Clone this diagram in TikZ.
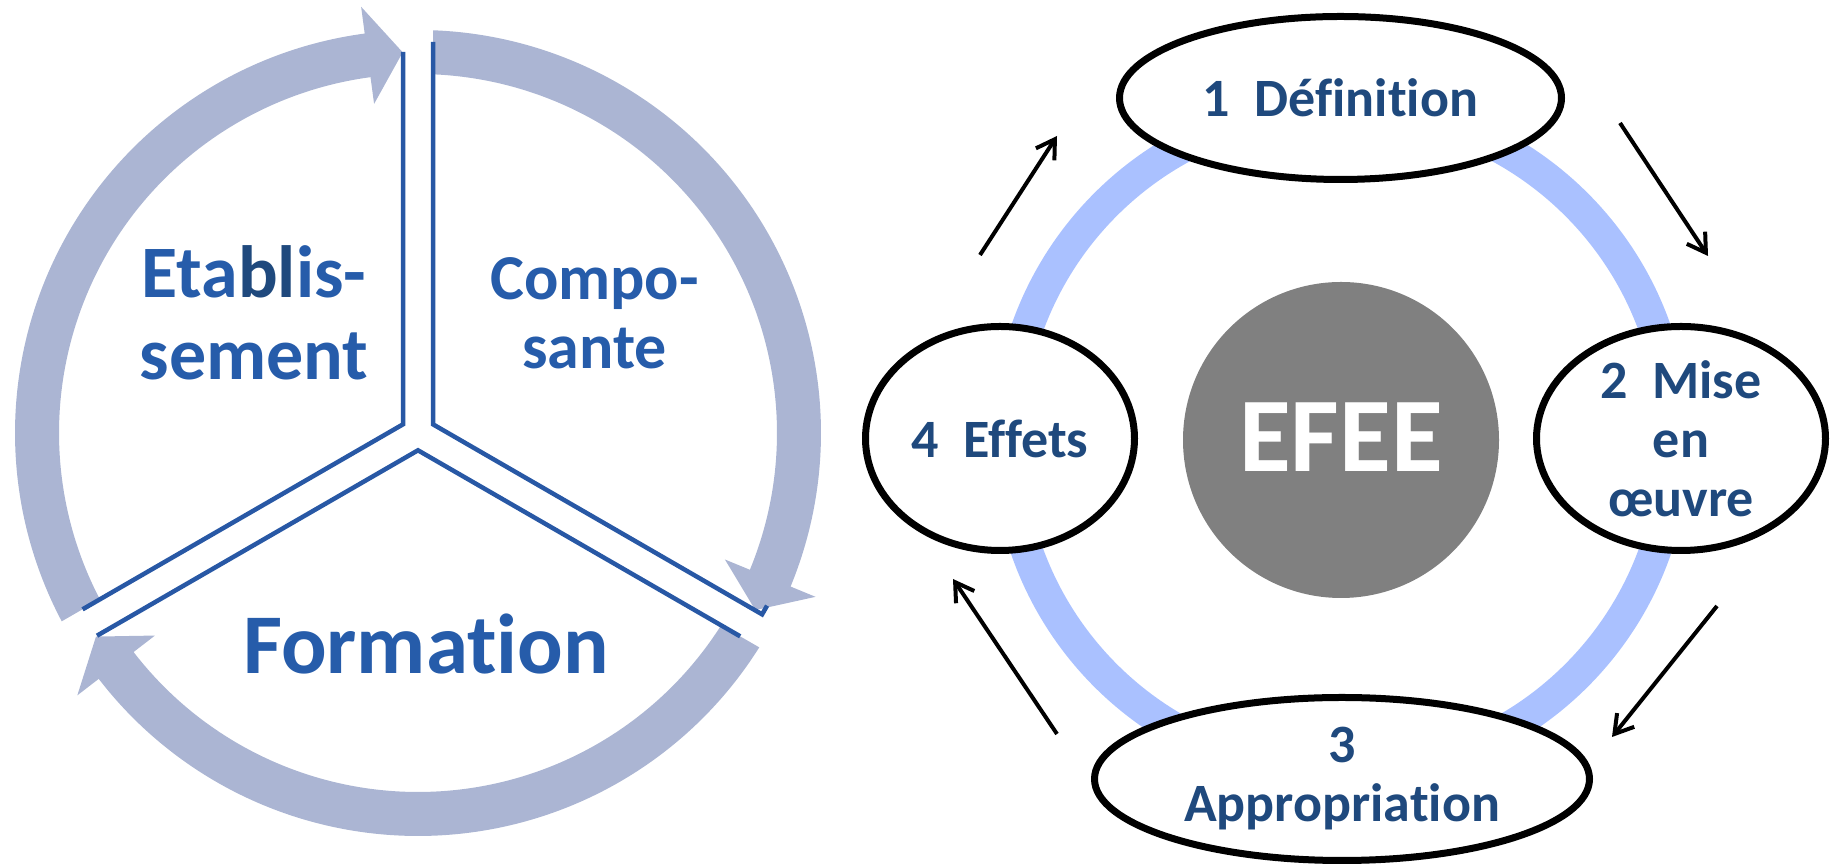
\documentclass[tikz,border=0pt]{standalone}
\usepackage{fontspec}
\setmainfont{Carlito}[Ligatures=NoCommon]
\usetikzlibrary{arrows.meta,shapes.geometric}

\definecolor{arrowfill}{RGB}{171,181,211}
\definecolor{lineblue}{RGB}{40,88,165}
\definecolor{labelblue}{RGB}{38,92,170}
\definecolor{navytext}{RGB}{31,73,125}
\definecolor{ringblue}{RGB}{170,193,255}
\definecolor{hubgray}{RGB}{128,128,128}

\begin{document}
\begin{tikzpicture}[x=1pt,y=1pt,
  divider/.style={draw=lineblue, line width=4.5pt, line join=miter},
  sectorlabel/.style={text=labelblue, align=center, inner sep=0pt},
  phase/.style={ellipse, draw=black, line width=7pt, fill=white, inner sep=0pt,
    font=\fontsize{54}{59}\selectfont\bfseries, text=navytext, align=center},
  cyclearrow/.style={line width=4pt, -{Straight Barb[length=18pt,width=22pt]}}
]
\useasboundingbox (0,0) rectangle (1834,866);

% ---------- left: three curved arrows around a Y-shaped split ----------
\begin{scope}[shift={(418,433)}]
  \foreach \r in {0,120,240} {
    \fill[arrowfill, rotate=\r]
      (87.86:403) arc[start angle=87.86, end angle=-22.4, radius=403]
      -- (-22.4:430) -- (-27.7:381) -- (-22.4:332)
      -- (-22.4:359) arc[start angle=-22.4, end angle=87.6, radius=359]
      -- cycle;
  }
  % double lines separating the three sectors
  \draw[divider] (-15,381) -- (-15,8.66) -- ++(210:370);
  \draw[divider] (15,391) -- (15,8.66) -- ++(-30:380) -- ++(60:10);
  \draw[divider] (-321,-202.7) -- (0,-17.32) -- ++(-30:372);
\end{scope}

\node[sectorlabel, font=\fontsize{74}{82}\selectfont\bfseries] (etab) at (254,553)
  {Eta{\color{navytext}bl}is-\\sement};
\node[sectorlabel, font=\fontsize{64}{69}\selectfont\bfseries] (comp) at (594.5,553)
  {Compo-\\sante};
\node[sectorlabel, font=\fontsize{85}{90}\selectfont\bfseries, anchor=base] (form) at (426,192)
  {Formation};

% ---------- right: the EFEE cycle ----------
\draw[ringblue, line width=32pt] (1341,426) circle[radius=333];
\node[circle, fill=hubgray, minimum size=316pt, inner sep=0pt] (hub) at (1341,426) {};
\node[text=white, font=\fontsize{106}{110}\selectfont\bfseries] (hubtext) at (1341,429) {EFEE};

\node[phase, minimum width=442pt, minimum height=163pt] (def) at (1340.5,768) {1\ \ Définition};
\node[phase, minimum width=289pt, minimum height=224pt] (mise) at (1681,427.5) {2\ \ Mise\\en\\œuvre};
\node[phase, minimum width=495pt, minimum height=163pt] (appr) at (1342,87) {3\\Appropriation};
\node[phase, minimum width=269pt, minimum height=224pt] (eff) at (1000,427.5) {4\ \ Effets};

\coordinate (a41s) at (980,611);  \coordinate (a41e) at (1057,730);
\coordinate (a12s) at (1620,743); \coordinate (a12e) at (1708,610);
\coordinate (a23s) at (1717,260); \coordinate (a23e) at (1612,129);
\coordinate (a34s) at (1057,132); \coordinate (a34e) at (953,287);

\draw[cyclearrow] (a41s) -- (a41e);
\draw[cyclearrow] (a12s) -- (a12e);
\draw[cyclearrow] (a23s) -- (a23e);
\draw[cyclearrow] (a34s) -- (a34e);
\end{tikzpicture}
\end{document}
